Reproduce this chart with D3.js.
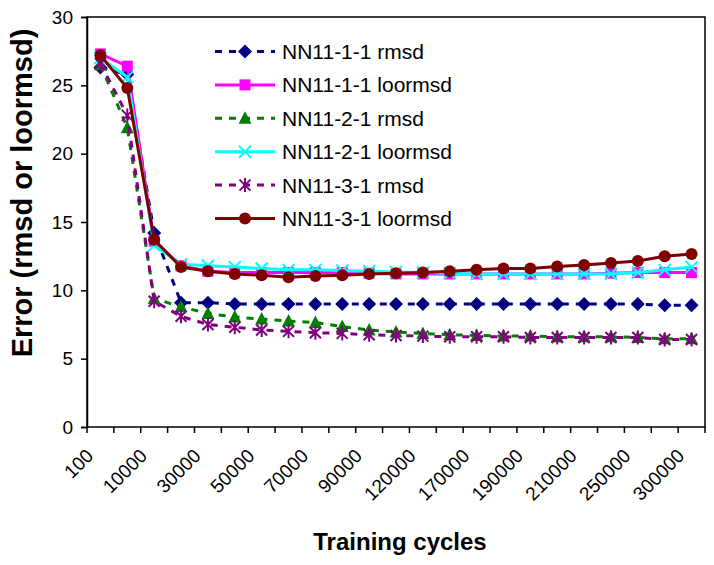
<!DOCTYPE html>
<html>
<head>
<meta charset="utf-8">
<script src="https://cdn.jsdelivr.net/npm/d3@7"></script>
<style>
html,body{margin:0;padding:0;background:#fff;}
svg{display:block;font-family:"Liberation Sans",Arial,sans-serif;}
</style>
</head>
<body>
<svg id="chart" width="714" height="565"></svg>
<script>
const categories = ["100","5000","10000","20000","30000","40000","50000","60000","70000","80000","90000","100000","120000","150000","170000","180000","190000","200000","210000","230000","250000","280000","300000"];
const nn111Rmsd    = [26.3,25.8,14.2,9.1,9.1,9.0,9.0,9.0,9.0,9.0,9.0,9.0,9.0,9.0,9.0,9.0,9.0,9.0,9.0,9.0,9.0,8.9,8.9];
const nn111Loormsd = [27.3,26.4,13.6,11.8,11.4,11.3,11.3,11.3,11.3,11.3,11.25,11.2,11.2,11.2,11.2,11.2,11.2,11.2,11.2,11.25,11.3,11.3,11.3];
const nn121Rmsd    = [26.5,21.9,9.4,8.8,8.3,8.05,7.9,7.75,7.65,7.35,7.1,6.95,6.85,6.75,6.7,6.65,6.65,6.6,6.6,6.6,6.55,6.45,6.45];
const nn121Loormsd = [27.0,25.6,13.3,11.9,11.8,11.7,11.6,11.5,11.5,11.45,11.4,11.35,11.3,11.25,11.2,11.2,11.2,11.2,11.2,11.2,11.3,11.5,11.7];
const nn131Rmsd    = [26.6,22.8,9.2,8.1,7.5,7.3,7.1,7.0,6.9,6.85,6.75,6.7,6.65,6.6,6.6,6.6,6.55,6.55,6.55,6.55,6.55,6.4,6.4];
const nn131Loormsd = [27.2,24.8,13.7,11.7,11.4,11.2,11.1,10.95,11.05,11.1,11.2,11.25,11.3,11.4,11.5,11.6,11.6,11.75,11.85,12.0,12.15,12.5,12.65];
const seriesNames = ["NN11-1-1 rmsd","NN11-1-1 loormsd","NN11-2-1 rmsd","NN11-2-1 loormsd","NN11-3-1 rmsd","NN11-3-1 loormsd"];
const yTicks = [0,5,10,15,20,25,30];
const xTitle = "Training cycles";
const yTitle = "Error (rmsd or loormsd)";

const series = [
  {name: seriesNames[0], values: nn111Rmsd,    color:"#000080", dash:"7,7", marker:"diamond"},
  {name: seriesNames[1], values: nn111Loormsd, color:"#FF00FF", dash:null,  marker:"square"},
  {name: seriesNames[2], values: nn121Rmsd,    color:"#008000", dash:"7,7", marker:"triangle"},
  {name: seriesNames[3], values: nn121Loormsd, color:"#00FFFF", dash:null,  marker:"x"},
  {name: seriesNames[4], values: nn131Rmsd,    color:"#800080", dash:"7,7", marker:"star"},
  {name: seriesNames[5], values: nn131Loormsd, color:"#800000", dash:null,  marker:"circle"}
];

const svg = d3.select("#chart");
const L = 87, R = 705, T = 17, B = 427;
const x = d3.scaleBand().domain(categories).range([L, R]).padding(0);
const y = d3.scaleLinear().domain([0, 30]).range([B, T]);
const cx = c => x(c) + x.bandwidth() / 2;

// frame
svg.append("rect").attr("x", L).attr("y", T).attr("width", R - L).attr("height", B - T)
  .attr("fill", "none").attr("stroke", "#000").attr("stroke-width", 1.5);

// y axis
const yAxis = svg.append("g").attr("transform", `translate(${L},0)`)
  .call(d3.axisLeft(y).tickValues(yTicks).tickSize(6).tickPadding(8).tickFormat(d3.format("d")));
yAxis.select(".domain").attr("stroke", "#000").attr("stroke-width", 1.5);
yAxis.selectAll(".tick line").attr("stroke", "#000").attr("stroke-width", 1.5);
yAxis.selectAll("text").attr("font-size", 19).attr("fill", "#000")
  .attr("font-family", "Liberation Sans, Arial, sans-serif");

// x axis: boundary ticks
const bounds = categories.map(c => x(c)).concat([x.range()[1]]);
svg.append("g").selectAll("line").data(bounds).join("line")
  .attr("x1", d => d).attr("x2", d => d).attr("y1", B).attr("y2", B + 6)
  .attr("stroke", "#000").attr("stroke-width", 1.5);

// x labels (every other category)
const xAxis = svg.append("g").attr("transform", `translate(0,${B})`)
  .call(d3.axisBottom(x).tickValues(categories.filter((c, i) => i % 2 === 0)).tickSize(0));
xAxis.select(".domain").remove();
xAxis.selectAll("text")
  .attr("font-size", 19).attr("fill", "#000")
  .attr("font-family", "Liberation Sans, Arial, sans-serif")
  .attr("text-anchor", "end")
  .attr("dy", null).attr("y", 0)
  .attr("transform", "translate(-6,30) rotate(-45)");

// titles
svg.append("text").attr("x", 400).attr("y", 550).attr("text-anchor", "middle")
  .attr("font-size", 24).attr("font-weight", "bold").text(xTitle);
svg.append("text").attr("transform", "translate(32,193) rotate(-90)").attr("text-anchor", "middle")
  .attr("font-size", 29).attr("font-weight", "bold").text(yTitle);

// markers
function drawMarker(g, type, color, px, py) {
  if (type === "diamond") {
    g.append("path").attr("d", `M${px},${py-7}L${px+7},${py}L${px},${py+7}L${px-7},${py}Z`).attr("fill", color);
  } else if (type === "square") {
    g.append("rect").attr("x", px-5.5).attr("y", py-5.5).attr("width", 11).attr("height", 11).attr("fill", color);
  } else if (type === "triangle") {
    g.append("path").attr("d", `M${px},${py-7}L${px+6.5},${py+5.5}L${px-6.5},${py+5.5}Z`).attr("fill", color);
  } else if (type === "x") {
    g.append("path").attr("d", `M${px-6},${py-6}L${px+6},${py+6}M${px-6},${py+6}L${px+6},${py-6}`)
      .attr("stroke", color).attr("stroke-width", 2).attr("fill", "none");
  } else if (type === "star") {
    g.append("path").attr("d", `M${px-5.5},${py-5.5}L${px+5.5},${py+5.5}M${px-5.5},${py+5.5}L${px+5.5},${py-5.5}M${px},${py-7}L${px},${py+7}`)
      .attr("stroke", color).attr("stroke-width", 2).attr("fill", "none");
  } else if (type === "circle") {
    g.append("circle").attr("cx", px).attr("cy", py).attr("r", 6).attr("fill", color);
  }
}

const line = d3.line().x((d, i) => cx(categories[i])).y(d => y(d));
series.forEach(s => {
  const g = svg.append("g");
  g.append("path").attr("d", line(s.values)).attr("fill", "none")
    .attr("stroke", s.color).attr("stroke-width", 3)
    .attr("stroke-dasharray", s.dash);
  s.values.forEach((v, i) => drawMarker(g, s.marker, s.color, cx(categories[i]), y(v)));
});

// legend
const lg = svg.append("g");
series.forEach((s, i) => {
  const ly = 51.5 + i * 33.4;
  lg.append("line").attr("x1", 215).attr("x2", 275).attr("y1", ly).attr("y2", ly)
    .attr("stroke", s.color).attr("stroke-width", 3).attr("stroke-dasharray", s.dash);
  drawMarker(lg, s.marker, s.color, 245, ly);
  lg.append("text").attr("x", 282).attr("y", ly + 7.5).attr("font-size", 21).attr("fill", "#000").text(s.name);
});
</script>
</body>
</html>
